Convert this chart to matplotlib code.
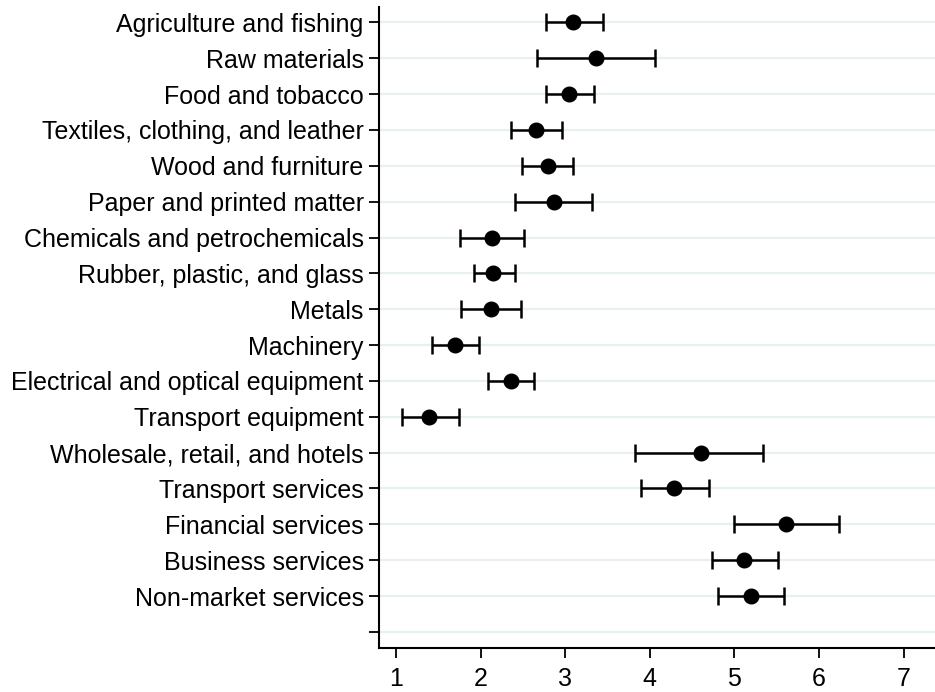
import numpy as np
import matplotlib.pyplot as plt

plt.rcParams['font.family'] = ['Liberation Sans', 'DejaVu Sans']

sectors = ['Agriculture and fishing', 'Raw materials', 'Food and tobacco',
           'Textiles, clothing, and leather', 'Wood and furniture',
           'Paper and printed matter', 'Chemicals and petrochemicals',
           'Rubber, plastic, and glass', 'Metals', 'Machinery',
           'Electrical and optical equipment', 'Transport equipment',
           'Wholesale, retail, and hotels', 'Transport services',
           'Financial services', 'Business services', 'Non-market services']
estimate = [3.09, 3.36, 3.05, 2.65, 2.80, 2.87, 2.13, 2.15, 2.12, 1.70,
            2.36, 1.39, 4.60, 4.29, 5.61, 5.11, 5.20]
lower = [2.77, 2.67, 2.77, 2.36, 2.49, 2.41, 1.76, 1.92, 1.77, 1.43,
         2.09, 1.07, 3.83, 3.90, 5.00, 4.73, 4.80]
upper = [3.45, 4.06, 3.34, 2.96, 3.09, 3.32, 2.51, 2.41, 2.48, 1.98,
         2.63, 1.74, 5.34, 4.70, 6.24, 5.51, 5.59]
xticks = [1, 2, 3, 4, 5, 6, 7]

est = np.array(estimate)
err = np.array([est - np.array(lower), np.array(upper) - est])
ypos = np.arange(len(sectors))

fig = plt.figure(figsize=(9.35, 6.92), dpi=100)
ax = fig.add_axes([379/935, 1 - 648/692, 1 - 379/935, (648 - 7)/692])

# light horizontal grid at every row, including the empty last one
for y in range(len(sectors) + 1):
    ax.axhline(y, color='#e8f0f2', lw=1.6, zorder=0)

ax.errorbar(est, ypos, xerr=err, fmt='o', color='black', ms=10.5,
            elinewidth=1.8, capsize=6.5, capthick=1.8, zorder=3)

ax.set_yticks(list(ypos) + [len(sectors)])
ax.set_yticklabels(sectors + [''], fontsize=18)
ax.set_xticks(xticks)
ax.set_xticklabels([str(t) for t in xticks], fontsize=18)
ax.set_xlim(0.80, 7.37)
ax.set_ylim(len(sectors) + 0.45, -0.43)

for s in ['top', 'right']:
    ax.spines[s].set_visible(False)
for s in ['left', 'bottom']:
    ax.spines[s].set_linewidth(1.5)
ax.tick_params(axis='both', direction='out', length=7, width=1.3, colors='black')
ax.tick_params(axis='x', pad=7)
ax.tick_params(axis='y', pad=4)

plt.savefig('out.png', dpi=100)
